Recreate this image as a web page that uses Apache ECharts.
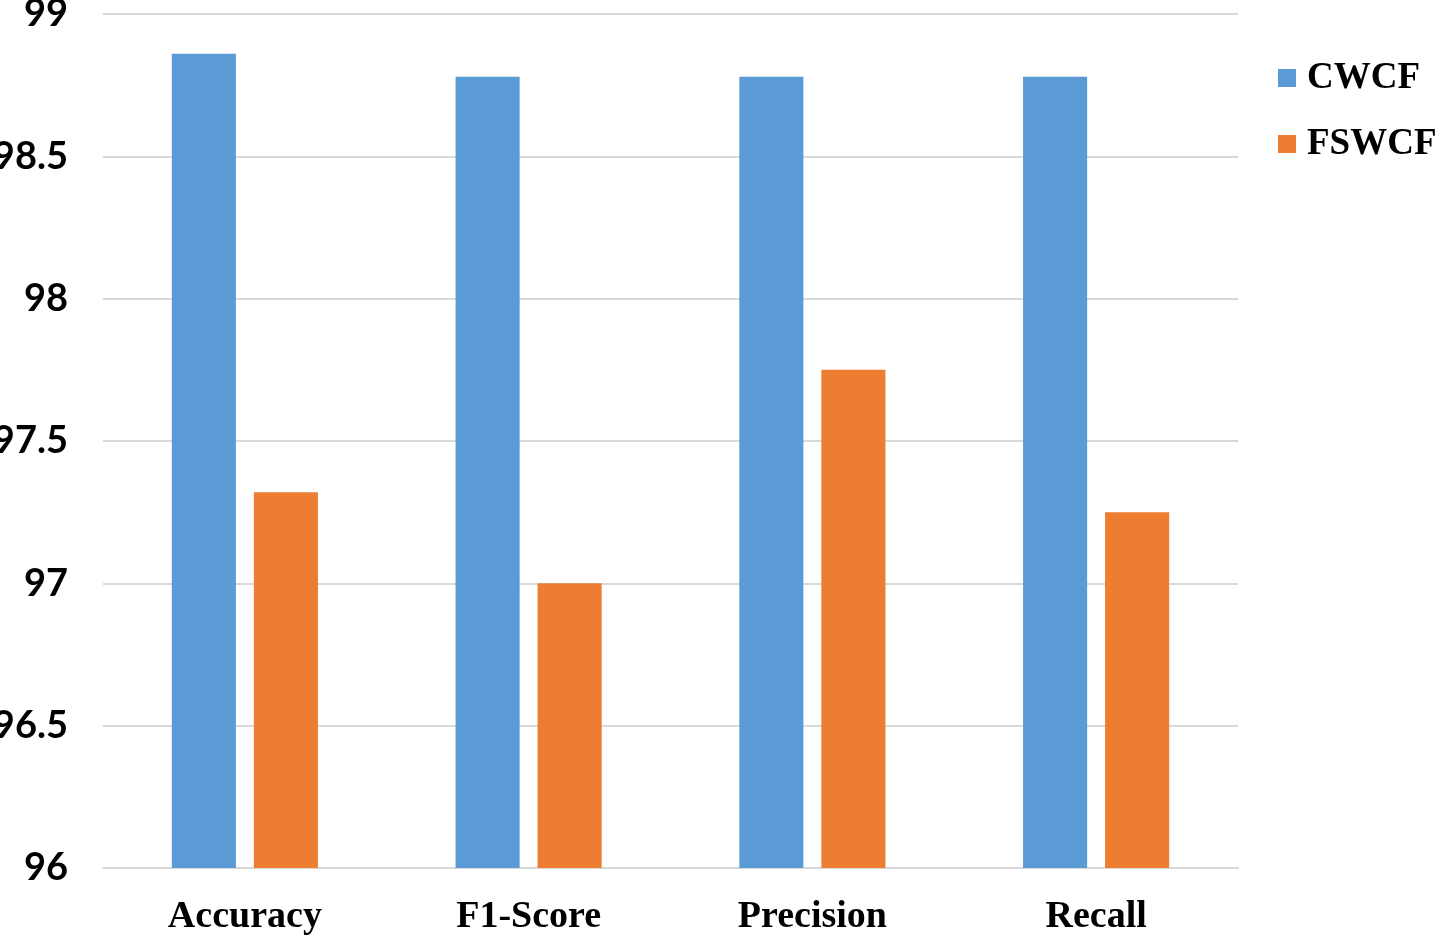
<!DOCTYPE html>
<html><head><meta charset="utf-8">
<script src="https://cdn.jsdelivr.net/npm/echarts@6/dist/echarts.min.js"></script>
<style>html,body{margin:0;padding:0;background:#fff}#c{width:1437px;height:935px}</style>
</head><body><div id="c"></div>
<script>
const categories = ['Accuracy', 'F1-Score', 'Precision', 'Recall'];
const cwcf = [98.86, 98.78, 98.78, 98.78];
const fswcf = [97.32, 97.00, 97.75, 97.25];
const yTicks = { min: 96, max: 99, interval: 0.5 };

const chart = echarts.init(document.getElementById('c'));
chart.setOption({
  animation: false,
  grid: { left: 103, right: 199, top: 14, bottom: 67, containLabel: false, outerBoundsMode: 'none' },
  legend: {
    orient: 'vertical', left: 1278, top: 58, padding: 0,
    itemWidth: 18, itemHeight: 18, itemGap: 26, icon: 'rect',
    textStyle: { fontFamily: 'Liberation Serif', fontWeight: 'bold', fontSize: 37, color: '#000', lineHeight: 40, padding: [0,0,0,6] },
    data: ['CWCF', 'FSWCF']
  },
  xAxis: {
    type: 'category', data: categories,
    axisLine: { lineStyle: { color: '#d9d9d9', width: 2 } },
    axisTick: { show: false },
    axisLabel: { fontFamily: 'Liberation Serif', fontWeight: 'bold', fontSize: 38, color: '#000', margin: 30 }
  },
  yAxis: {
    type: 'value', min: yTicks.min, max: yTicks.max, interval: yTicks.interval,
    axisLine: { show: false }, axisTick: { show: false },
    splitLine: { lineStyle: { color: '#d9d9d9', width: 2 } },
    axisLabel: { fontFamily: 'Lato', fontWeight: 'bold', fontSize: 38, color: '#000', margin: 35 }
  },
  series: [
    { name: 'CWCF', type: 'bar', data: cwcf, barGap: '28%', barCategoryGap: '48.5%',
      itemStyle: { color: '#5B9BD5' } },
    { name: 'FSWCF', type: 'bar', data: fswcf,
      itemStyle: { color: '#ED7D31' } }
  ]
});
</script></body></html>
